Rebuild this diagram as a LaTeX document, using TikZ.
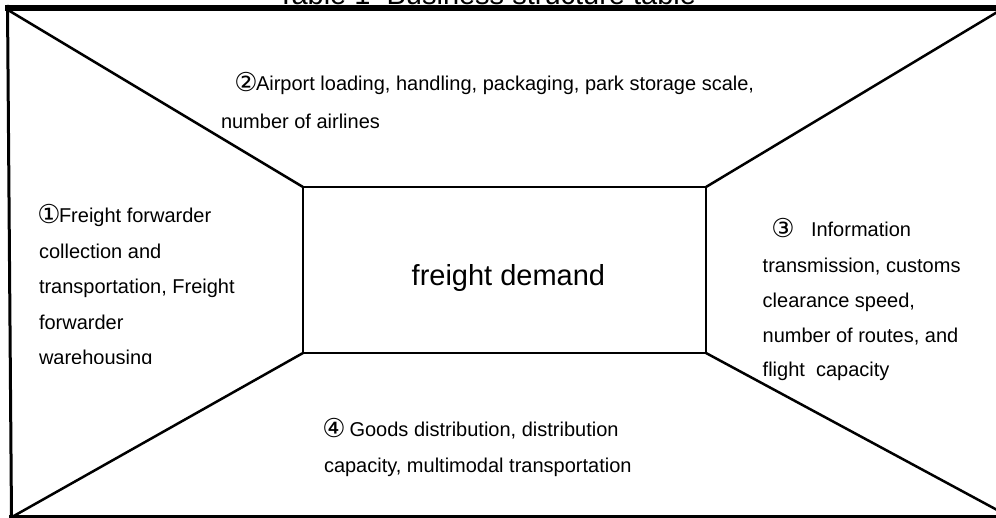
\documentclass[tikz,border=0pt]{standalone}
\usepackage{fontspec}
\setmainfont{Liberation Sans}
\newfontfamily\circfont{DejaVu Sans}
\newcommand{\cnum}[1]{\makebox[20bp][c]{\circfont\fontsize{26bp}{28bp}\selectfont\raisebox{-1bp}{#1}}}
\begin{document}
\begin{tikzpicture}[x=1bp,y=-1bp,
  frame/.style={line width=#1, black},
  diag/.style={line width=2.5bp, black},
  txt/.style={anchor=base west, inner sep=0, outer sep=0, font=\fontsize{20bp}{24bp}\selectfont},
  big/.style={anchor=base west, inner sep=0, outer sep=0, font=\fontsize{29bp}{34bp}\selectfont}]
\useasboundingbox (0,0) rectangle (996,518);
% title (cut by the page edge)
\node[big] (title) at (277,4.5) {Table 1\ \ Business structure table};
% outer frame
\coordinate (ftl) at (5,8);
\coordinate (ftr) at (1000,8);
\coordinate (fl1) at (7.5,5);
\coordinate (fl2) at (11.5,518);
\coordinate (fbl) at (9,516.5);
\coordinate (fbr) at (1000,516.5);
\draw[frame=6bp] (ftl) -- (ftr);
\draw[frame=3bp] (fl1) -- (fl2);
\draw[frame=3.5bp] (fbl) -- (fbr);
% centre box
\node[draw, line width=2.5bp, minimum width=403bp, minimum height=166bp,
      inner sep=0, outer sep=0] (box) at (504.5,270) {};
\node[big] (fd) at (411.7,285.5) {freight demand};
% diagonals
\coordinate (tl) at (8,10);
\coordinate (tr) at (999,11);
\coordinate (bl) at (12,517);
\coordinate (br) at (999,511);
\draw[diag] (tl) -- (box.north west);
\draw[diag] (tr) -- (box.north east);
\draw[diag] (bl) -- (box.south west);
\draw[diag] (br) -- (box.south east);
% top text
\node[txt] (t1) at (236,91) {\cnum{②}Airport loading, handling, packaging, park storage scale,};
\node[txt] (t2) at (221,129) {number of airlines};
% left text
\begin{scope}
\clip (0,0) rectangle (300,363);
\node[txt] (l1) at (39,223) {\cnum{①}Freight forwarder};
\node[txt] (l2) at (39,258.5) {collection and};
\node[txt] (l3) at (39,294) {transportation, Freight};
\node[txt] (l4) at (39,329.5) {forwarder};
\node[txt] (l5) at (39,365) {warehousing};
\end{scope}
% right text
\node[txt] (r1) at (773,237) {\cnum{③}\hspace{18bp}Information};
\node[txt] (r2) at (762.7,272.5) {transmission, customs};
\node[txt] (r3) at (762.7,307.5) {clearance speed,};
\node[txt] (r4) at (762.7,342.5) {number of routes, and};
\node[txt] (r5) at (762.7,377) {flight\ \ capacity};
% bottom text
\node[txt] (b1) at (324,436.7) {\cnum{④} Goods distribution, distribution};
\node[txt] (b2) at (324,472) {capacity, multimodal transportation};
\end{tikzpicture}
\end{document}
